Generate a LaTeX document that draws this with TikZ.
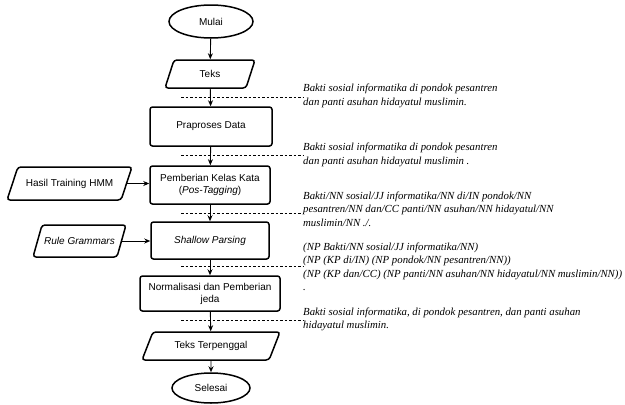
\documentclass[tikz,border=0pt]{standalone}
\usepackage{fontspec}
\setmainfont{Liberation Serif}
\newfontfamily\sansf{Liberation Sans}
\newfontfamily\seriff{Liberation Serif}
\usetikzlibrary{shapes.geometric,arrows.meta}
\begin{document}
\begin{tikzpicture}[x=1pt,y=-1pt,
 boxfont/.style={font=\sansf\fontsize{10}{12}\selectfont},
 proc/.style={draw,line width=1.5pt,rounded corners=2.5pt,boxfont,align=center,inner sep=1pt},
 io/.style={trapezium,trapezium left angle=46,trapezium right angle=134,trapezium stretches body,draw,line width=1.5pt,rounded corners=3pt,boxfont,inner sep=1pt},
 term/.style={ellipse,draw,line width=1.5pt,boxfont,inner sep=0pt},
 arr/.style={-{Stealth[length=6pt,width=5pt]},line width=0.9pt},
 dsh/.style={dash pattern=on 2.5pt off 2pt,line width=0.8pt},
 note/.style={anchor=west,align=left,font=\seriff\itshape\fontsize{10.8}{13.5}\selectfont,inner sep=0pt}]
\useasboundingbox (0,0) rectangle (625,405);

\node[term,minimum width=84pt,minimum height=33pt] (mulai) at (211,21.5) {Mulai};
\node[io,minimum width=90pt,minimum height=28pt] (teks) at (210,74) {Teks};
\node[proc,minimum width=122pt,minimum height=39pt] (prap) at (211,126.5) {Praproses Data};
\node[proc,minimum width=120pt,minimum height=38pt] (pemb) at (210,185) {Pemberian Kelas Kata\\(\textit{Pos-Tagging})};
\node[proc,minimum width=118pt,minimum height=37pt] (shal) at (210,240.5) {\textit{Shallow Parsing}};
\node[proc,minimum width=140pt,minimum height=35pt] (norm) at (210,293.5) {Normalisasi dan Pemberian\\jeda};
\node[io,minimum width=138pt,minimum height=28pt] (tter) at (211,346) {Teks Terpenggal};
\node[term,minimum width=78pt,minimum height=30pt] (sel) at (211,388) {Selesai};
\node[io,minimum width=125pt,minimum height=33pt] (hmm) at (69.5,183.5) {Hasil Training HMM};
\node[io,minimum width=93pt,minimum height=32pt] (rule) at (79.5,241) {\textit{Rule Grammars}};

\draw[arr] (mulai) -- (teks);
\draw[arr] (teks) -- (prap);
\draw[arr] (prap) -- (pemb);
\draw[arr] (pemb) -- (shal);
\draw[arr] (shal) -- (norm);
\draw[arr] (norm) -- (tter);
\draw[arr] (tter) -- (sel);
\draw[arr] (hmm.east) -- (pemb.west |- hmm.east);
\draw[arr] (rule.east) -- (shal.west |- rule.east);

\node[note] (n1) at (303,96) {Bakti sosial informatika di pondok pesantren\\dan panti asuhan hidayatul muslimin.};
\node[note] (n2) at (303,155) {Bakti sosial informatika di pondok pesantren\\dan panti asuhan hidayatul muslimin .};
\node[note] (n3) at (303,209) {Bakti/NN sosial/JJ informatika/NN di/IN pondok/NN\\pesantren/NN dan/CC panti/NN asuhan/NN hidayatul/NN\\muslimin/NN ./.};
\node[note] (n4) at (303,267) {(NP Bakti/NN sosial/JJ informatika/NN)\\(NP (KP di/IN) (NP pondok/NN pesantren/NN))\\(NP (KP dan/CC) (NP panti/NN asuhan/NN hidayatul/NN muslimin/NN))\\.};
\node[note] (n5) at (303,319.5) {Bakti sosial informatika, di pondok pesantren, dan panti asuhan\\hidayatul muslimin.};

\coordinate (d1) at (181,97);
\coordinate (d2) at (181,155);
\coordinate (d3) at (181,213);
\coordinate (d4) at (181,266);
\coordinate (d5) at (181,320);
\draw[dsh] (d1) -- (n1.west |- d1);
\draw[dsh] (d2) -- (n2.west |- d2);
\draw[dsh] (d3) -- (n3.west |- d3);
\draw[dsh] (d4) -- (n4.west |- d4);
\draw[dsh] (d5) -- (n5.west |- d5);
\end{tikzpicture}
\end{document}
